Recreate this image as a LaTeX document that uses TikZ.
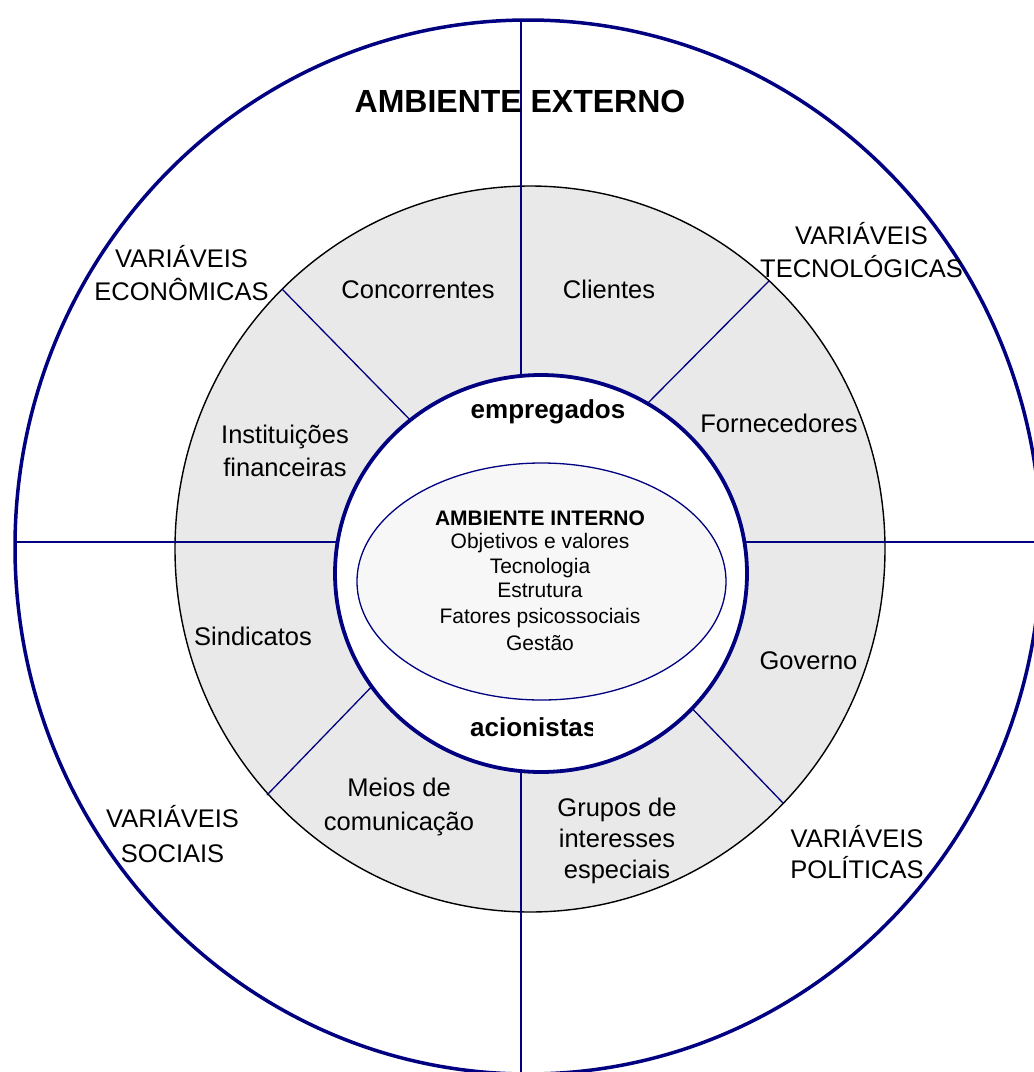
\documentclass[tikz,border=0pt]{standalone}
\usepackage{fontspec}
\setmainfont{Liberation Sans}
\definecolor{navy}{RGB}{0,0,128}
\definecolor{ringgray}{RGB}{233,233,233}
\definecolor{corefill}{RGB}{247,247,247}

\begin{document}
\begin{tikzpicture}[x=1pt,y=-1pt,
  lbl/.style={font=\fontsize{25.5}{33}\selectfont, align=center, inner sep=0pt, anchor=base},
  boldlbl/.style={font=\bfseries\fontsize{26}{30}\selectfont, inner sep=0pt, anchor=base},
  corelbl/.style={font=\fontsize{21}{23}\selectfont, align=center, inner sep=0pt, anchor=base},
  spoke/.style={draw=navy, line width=1.3pt},
]
\useasboundingbox (0,0) rectangle (1034,1072);

% outer environment
\draw[navy, line width=3.5pt, fill=white] (528,547) ellipse [x radius=513, y radius=527];

% ring of stakeholders
\draw[black, line width=1.4pt, fill=ringgray] (530,549) ellipse [x radius=355, y radius=363];

% dividing lines
\path[spoke] (521,20) -- (521,1080);
\path[spoke] (14,542) -- (1040,542);
\path[spoke] (282,289) -- (420,430);
\path[spoke] (769,281) -- (640,411);
\path[spoke] (267,795) -- (380,678);
\path[spoke] (783,803) -- (684,700);

% organisation boundary
\draw[navy, line width=3.8pt, fill=white] (541,573.5) ellipse [x radius=206, y radius=198.5];

% internal environment
\draw[navy, line width=1.3pt, fill=corefill] (541.5,581.5) ellipse [x radius=184.5, y radius=118.5];

% titles (multi-line labels are placed at the baseline of their last line)
\node[font=\bfseries\fontsize{32}{36}\selectfont, inner sep=0pt, anchor=base] (ext) at (520,112) {AMBIENTE EXTERNO};

% external variables
\node[lbl] (eco) at (181.5,300) {VARIÁVEIS\\ECONÔMICAS};
\node[lbl] (tec) at (861.5,277) {VARIÁVEIS\\TECNOLÓGICAS};
\node[lbl, font=\fontsize{25.5}{35}\selectfont] (soc) at (172.5,862) {VARIÁVEIS\\SOCIAIS};
\node[lbl, font=\fontsize{25.5}{31}\selectfont] (pol) at (857,878) {VARIÁVEIS\\POLÍTICAS};

% stakeholders
\node[lbl] (conc) at (418,298) {Concorrentes};
\node[lbl] (cli) at (609,298) {Clientes};
\node[lbl] (forn) at (779,432) {Fornecedores};
\node[lbl] (inst) at (285,476) {Instituições\\financeiras};
\node[lbl] (sind) at (253,645) {Sindicatos};
\node[lbl] (gov) at (808.5,669) {Governo};
\node[lbl, font=\fontsize{25.5}{34}\selectfont] (meios) at (399,830) {Meios de\\comunicação};
\node[lbl, font=\fontsize{25.5}{31}\selectfont] (grupos) at (617,878) {Grupos de\\interesses\\especiais};

% organisation members
\node[boldlbl] (emp) at (548,418) {empregados};
\begin{scope}
  \clip (0,0) rectangle (592,1072);
  \node[boldlbl, anchor=base west] (acio) at (470,736) {acionistas};
\end{scope}

% internal variables
\node[corelbl] (int) at (540,650) {\textbf{AMBIENTE INTERNO}\\Objetivos e valores\\[2pt]Tecnologia\\[1pt]Estrutura\\[3pt]Fatores psicossociais\\[4pt]Gestão};
\end{tikzpicture}
\end{document}
